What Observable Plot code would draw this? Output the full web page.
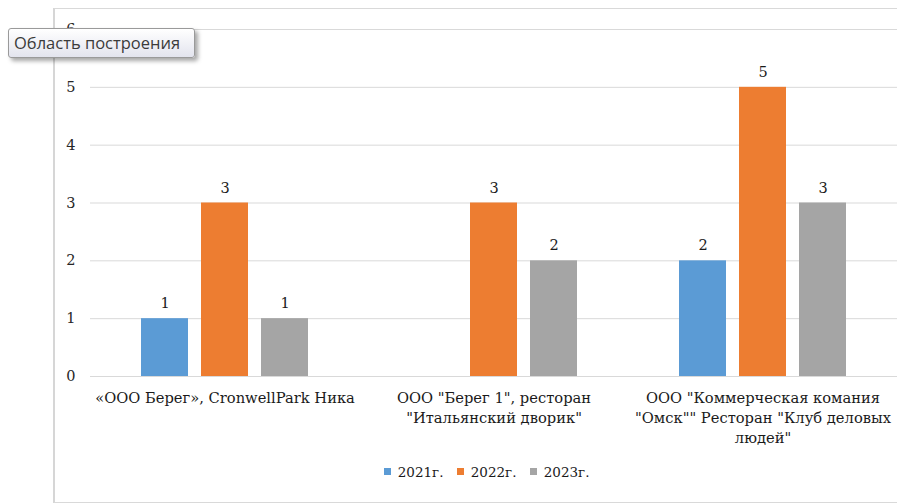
<!DOCTYPE html>
<html>
<head>
<meta charset="utf-8">
<script src="https://cdn.jsdelivr.net/npm/d3@7"></script>
<script src="https://cdn.jsdelivr.net/npm/@observablehq/plot@0.6"></script>
<style>
  html, body { margin: 0; padding: 0; background: #fff; }
  #wrap { position: relative; width: 897px; height: 503px; overflow: hidden; }
  #frame { position: absolute; left: 53px; top: 8px; width: 860px; height: 493px;
           border: 1px solid #d9d9d9; border-left: 2px solid #d6d6d6; pointer-events: none; }
  #chart { position: absolute; left: 0; top: 0; }
  #legend { position: absolute; left: 384px; top: 455px; font-family: "DejaVu Serif"; }
  #tip { position: absolute; left: 8px; top: 28px; width: 180px; height: 28px;
         border: 1px solid #9a9a9a; border-radius: 3px;
         background: linear-gradient(#ffffff, #e3e4ee);
         box-shadow: 3px 3px 4px rgba(0,0,0,0.35);
         font: 16.5px "Open Sans", "Noto Sans", sans-serif; color: #3b3b3b;
         line-height: 28px; padding-left: 5px; white-space: nowrap; }
</style>
</head>
<body>
<div id="wrap">
  <div id="chart"></div>
  <div id="frame"></div>
  <div id="legend"></div>
  <div id="tip">Область построения</div>
</div>
<script>
const categories = [
  "«ООО Берег», CronwellPark Ника",
  "ООО \"Берег 1\", ресторан\n\"Итальянский дворик\"",
  "ООО \"Коммерческая комания\n\"Омск\"\" Ресторан \"Клуб деловых\nлюдей\""
];
const years = ["2021г.", "2022г.", "2023г."];
const values2021 = [1, null, 2];
const values2022 = [3, 3, 5];
const values2023 = [1, 2, 3];
const colors = ["#5B9BD5", "#ED7D31", "#A5A5A5"];
const yTicks = [0, 1, 2, 3, 4, 5, 6];

const series = [values2021, values2022, values2023];
const data = [];
categories.forEach((c, i) => {
  years.forEach((y, j) => {
    const v = series[j][i];
    if (v != null) data.push({category: c, year: y, value: v});
  });
});

const serif = "DejaVu Serif";

const chart = Plot.plot({
  width: 897,
  height: 460,
  marginLeft: 90,
  marginRight: 0,
  marginTop: 29,
  marginBottom: 84,
  style: {fontFamily: serif, fontSize: "15px", color: "#262626", background: "transparent"},
  fx: {domain: categories, padding: 0, label: null},
  x: {domain: years, paddingInner: 0.22, paddingOuter: 0.85, axis: null},
  y: {domain: [0, 6], label: null},
  color: {domain: years, range: colors},
  marks: [
    Plot.gridY(yTicks, {stroke: "#d9d9d9", strokeOpacity: 1, strokeWidth: 1}),
    Plot.axisY(yTicks, {tickSize: 0, tickPadding: 15, tickFormat: d3.format("d"), fontSize: 14.5, fill: "#262626", label: null}),
    Plot.axisFx({anchor: "bottom", tickSize: 0, tickPadding: 12, fontSize: 14.7, lineHeight: 1.38, fill: "#1a1a1a", label: null}),
    Plot.barY(data, {fx: "category", x: "year", y: "value", fill: "year"}),
    Plot.text(data, {fx: "category", x: "year", y: "value", text: d => String(d.value), dy: -15, fontSize: 14.5, fill: "#1a1a1a"})
  ]
});
document.getElementById("chart").appendChild(chart);

const legend = Plot.legend({
  color: {domain: years, range: colors},
  legend: "swatches",
  swatchSize: 7,
  style: {fontSize: "13.5px", color: "#1a1a1a", fontFamily: serif}
});
document.getElementById("legend").appendChild(legend);
</script>
</body>
</html>
